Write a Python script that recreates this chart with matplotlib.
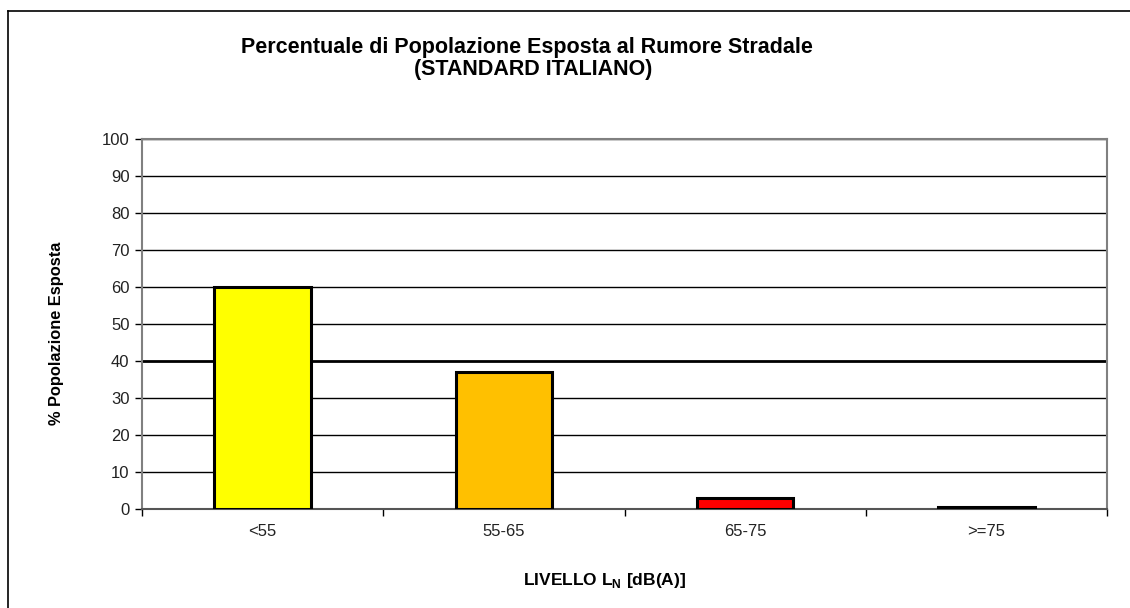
import matplotlib.pyplot as plt
import numpy as np
from matplotlib.lines import Line2D

plt.rcParams["font.family"] = ["Liberation Sans", "DejaVu Sans"]
plt.rcParams["mathtext.fontset"] = "custom"
plt.rcParams["mathtext.rm"] = "Liberation Sans:bold"

# ── Data ─────────────────────────────────────────────────────────────────────
categories = ["<55", "55-65", "65-75", ">=75"]
percent = [60, 37, 3, 0.5]
bar_colors = ["#FFFF00", "#FFC000", "#FF0000", "#000000"]
y_ticks = list(range(0, 101, 10))

fig = plt.figure(figsize=(11.3, 6.08), dpi=100)
ax = fig.add_axes([142 / 1130, 1 - 509 / 608, (1107 - 142) / 1130, (509 - 139) / 608])

x = np.arange(len(categories))
ax.bar(x, percent, width=0.4, color=bar_colors, edgecolor="black", linewidth=2.2, zorder=3)

ax.set_xlim(-0.5, len(categories) - 0.5)
ax.set_ylim(0, 100)
ax.set_yticks(y_ticks)
ax.set_yticklabels([str(t) for t in y_ticks], fontsize=12, color="#222222")
ax.set_xticks(x)
ax.set_xticklabels(categories, fontsize=12, color="#222222")
ax.set_xticks(np.arange(-0.5, len(categories)), minor=True)
ax.tick_params(axis="x", which="major", length=0, pad=11)
ax.tick_params(axis="x", which="minor", length=5, width=1, color="black", direction="out")
ax.tick_params(axis="y", length=5, width=1, color="black", direction="out", pad=4)

# gridlines (the 40 line is drawn heavier in the original)
for t in y_ticks[1:]:
    ax.axhline(t, color="black", linewidth=2.0 if t == 40 else 1.0, zorder=1)

for side in ["top", "right", "left"]:
    ax.spines[side].set_color("#808080")
    ax.spines[side].set_linewidth(1.5)
ax.spines["bottom"].set_color("#555555")
ax.spines["bottom"].set_linewidth(1.5)

fig.text(527 / 1130, 1 - 47 / 608, "Percentuale di Popolazione Esposta al Rumore Stradale",
         ha="center", va="center", fontsize=15.5, fontweight="bold")
fig.text(533 / 1130, 1 - 70 / 608, "(STANDARD ITALIANO)",
         ha="center", va="center", fontsize=15.5, fontweight="bold")
fig.text(57 / 1130, 1 - 333 / 608, "% Popolazione Esposta", rotation=90,
         ha="center", va="center", fontsize=11.8, fontweight="bold")
fig.text(605 / 1130, 1 - 580 / 608, r"LIVELLO L$_{\mathrm{N}}$ [dB(A)]",
         ha="center", va="center", fontsize=12.5, fontweight="bold")

# outer chart frame (left and top edges only visible)
fig.add_artist(Line2D([8 / 1130, 8 / 1130], [0, 1 - 11 / 608], transform=fig.transFigure,
                      color="black", linewidth=1.2))
fig.add_artist(Line2D([8 / 1130, 1], [1 - 11 / 608, 1 - 11 / 608], transform=fig.transFigure,
                      color="black", linewidth=1.2))

fig.savefig("out.png", dpi=100)
